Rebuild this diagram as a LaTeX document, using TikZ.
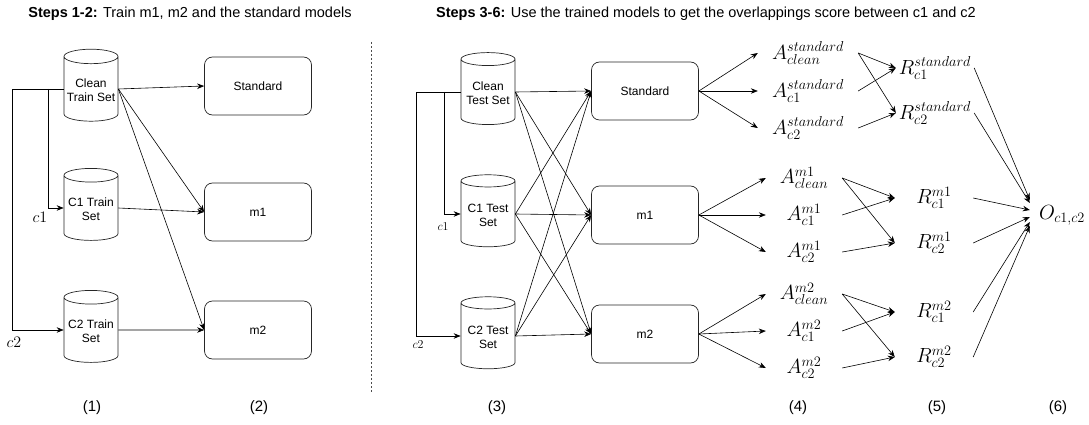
\documentclass[tikz,border=0pt]{standalone}
\usepackage{fix-cm}
\usepackage{fontspec}
\setmainfont{Liberation Sans}
\usetikzlibrary{shapes.geometric,arrows.meta}

\begin{document}
\begin{tikzpicture}[x=1pt,y=-1pt,
		every node/.style={inner sep=0pt},
		arr/.style={-{Stealth[length=7pt,width=5.5pt]}, line width=0.6pt},
		dataset/.style={cylinder, shape border rotate=90, aspect=0.3, draw=black!85, line width=0.7pt,
			minimum width=54pt, minimum height=72pt, align=center, font=\fontsize{12}{13.5}\selectfont,
			execute at begin node=\rule{0pt}{25pt}},
		model/.style={rectangle, rounded corners=8pt, draw=black!85, line width=0.7pt,
			minimum width=107pt, minimum height=58pt, font=\fontsize{12}{14}\selectfont},
		score/.style={font=\fontsize{20.5}{23}\selectfont},
		accstd/.style={score, minimum width=100pt},
		accm/.style={score, minimum width=76pt},
		ratio/.style={score, minimum width=78pt},
		heading/.style={font=\fontsize{14.5}{17}\selectfont},
		steplabel/.style={font=\fontsize{15}{17}\selectfont}]
	\useasboundingbox (0,0) rectangle (1089,425);
	% titles and separator
	\node[heading] (titleL) at (190,14) {\textbf{Steps 1-2:} Train m1, m2 and the standard models};
	\node[heading] (titleR) at (706,14) {\textbf{Steps 3-6:} Use the trained models to get the overlappings score between c1 and c2};
	\draw [black!70, dash pattern=on 2pt off 2pt] (371,42) -- (371,393);
	% steps 1-2
	\node[dataset] (cleantr) at (91,89) {Clean\\Train Set};
	\node[dataset] (conetr) at (91,208) {C1 Train\\Set};
	\node[dataset] (ctwotr) at (91,330) {C2 Train\\Set};
	\node[model] (stdtr) at (258,86) {Standard};
	\node[model] (monetr) at (258,212) {m1};
	\node[model] (mtwotr) at (258,330) {m2};
	\draw [arr] (cleantr.west) -- ++(-51,0) |- (ctwotr.west);
	\draw [arr] ([xshift=-15pt]cleantr.west) |- (conetr.west);
	\node[font=\fontsize{16}{18}\selectfont] (conelblL) at (40,217) {$c1$};
	\node[font=\fontsize{16}{18}\selectfont] (ctwolblL) at (14,342) {$c2$};
	\draw [arr] (cleantr.east) -- (stdtr.west);
	\draw [arr] (cleantr.east) -- (monetr.west);
	\draw [arr] (cleantr.east) -- (mtwotr.west);
	\draw [arr] (conetr.east) -- (monetr.west);
	\draw [arr] (ctwotr.east) -- (mtwotr.west);
	% step 3
	\node[dataset] (cleante) at (488,92) {Clean\\Test Set};
	\node[dataset] (conete) at (488,214) {C1 Test\\Set};
	\node[dataset] (ctwote) at (488,336) {C2 Test\\Set};
	\node[model] (stdte) at (645,91) {Standard};
	\node[model] (monete) at (645,215) {m1};
	\node[model] (mtwote) at (645,334) {m2};
	\draw [arr] (cleante.west) -- ++(-44,0) |- (ctwote.west);
	\draw [arr] ([xshift=-16pt]cleante.west) |- (conete.west);
	\node[font=\fontsize{12}{14}\selectfont] (conelblR) at (443,227) {$c1$};
	\node[font=\fontsize{12}{14}\selectfont] (ctwolblR) at (418,345) {$c2$};
	\foreach \src in {cleante,conete,ctwote}
		\foreach \dst in {stdte,monete,mtwote}
			\draw [arr] (\src.east) -- (\dst.west);
	% step 4: accuracies
	\node[accstd] (astdclean) at (808,53) {$A^{standard}_{clean}$};
	\node[accstd] (astdcone) at (808,91) {$A^{standard}_{c1}$};
	\node[accstd] (astdctwo) at (808,128) {$A^{standard}_{c2}$};
	\node[accm] (amoneclean) at (804,178) {$A^{m1}_{clean}$};
	\node[accm] (amonecone) at (804,215) {$A^{m1}_{c1}$};
	\node[accm] (amonectwo) at (804,252) {$A^{m1}_{c2}$};
	\node[accm] (amtwoclean) at (804,294) {$A^{m2}_{clean}$};
	\node[accm] (amtwocone) at (804,331) {$A^{m2}_{c1}$};
	\node[accm] (amtwoctwo) at (804,368) {$A^{m2}_{c2}$};
	% step 5: ratios
	\node[ratio] (rstdcone) at (935,68) {$R^{standard}_{c1}$};
	\node[ratio] (rstdctwo) at (935,113) {$R^{standard}_{c2}$};
	\node[ratio] (rmonecone) at (934,198) {$R^{m1}_{c1}$};
	\node[ratio] (rmonectwo) at (934,243) {$R^{m1}_{c2}$};
	\node[ratio] (rmtwocone) at (934,312) {$R^{m2}_{c1}$};
	\node[ratio] (rmtwoctwo) at (934,357) {$R^{m2}_{c2}$};
	% step 6: overlap
	\node[score, minimum width=64pt] (overlap) at (1062,215) {$O_{c1,c2}$};
	\foreach \mdl/\acc in {stdte/astd, monete/amone, mtwote/amtwo}
		\foreach \set in {clean,cone,ctwo}
			\draw [arr] (\mdl.east) -- (\acc\set.west);
	\foreach \acc/\rat in {astd/rstd, amone/rmone, amtwo/rmtwo} {
		\draw [arr] (\acc clean.east) -- (\rat cone.west);
		\draw [arr] (\acc clean.east) -- (\rat ctwo.west);
		\draw [arr] (\acc cone.east) -- (\rat cone.west);
		\draw [arr] (\acc ctwo.east) -- (\rat ctwo.west);
	}
	\foreach \rat/\dy in {rstdcone/15, rstdctwo/12, rmonecone/5, rmonectwo/-2, rmtwocone/-7, rmtwoctwo/-11}
		\draw [arr] (\rat.east) -- ([yshift=\dy pt]overlap.west);
	% step numbers
	\node[steplabel] (colone) at (92,408) {(1)};
	\node[steplabel] (coltwo) at (259,408) {(2)};
	\node[steplabel] (colthree) at (497,408) {(3)};
	\node[steplabel] (colfour) at (798,408) {(4)};
	\node[steplabel] (colfive) at (937,408) {(5)};
	\node[steplabel] (colsix) at (1058,408) {(6)};
\end{tikzpicture}
\end{document}
